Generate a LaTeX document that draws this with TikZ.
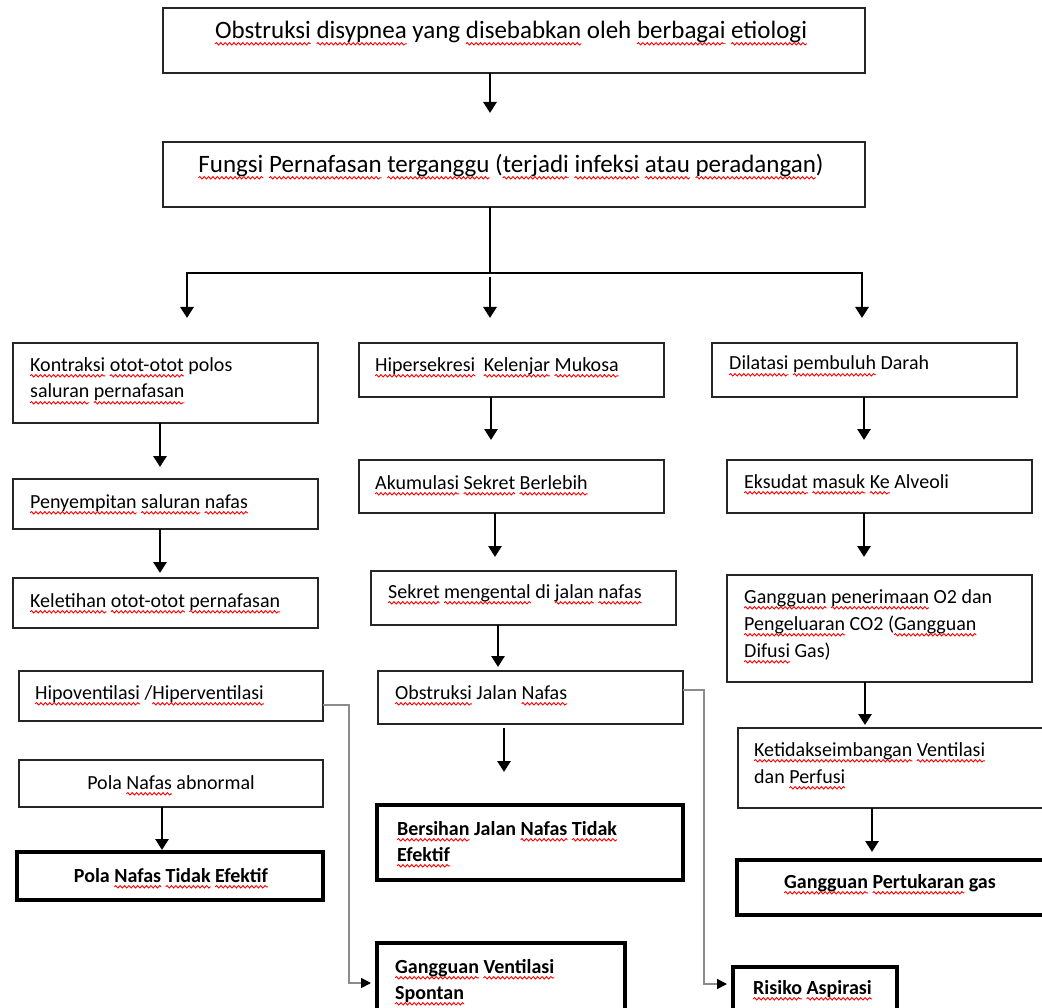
\documentclass[tikz,border=0pt]{standalone}
\usepackage{fontspec}
\setmainfont{Carlito}
\usetikzlibrary{arrows.meta,decorations.pathmorphing}
\newdimen\sqwidth
\newcommand\sq[1]{\setbox0=\hbox{#1}\sqwidth=\wd0\leavevmode\rlap{\tikz[overlay,baseline=0pt]\draw[red, line width=0.9pt, decorate, decoration={snake, amplitude=1.2pt, segment length=4.4pt}] (0pt,-4.8pt) -- (\sqwidth,-4.8pt);}\box0\relax}
\tikzset{
  box/.style={draw=black!85, line width=1.4pt, inner sep=0pt, outer sep=0pt},
  tbox/.style={draw=black, line width=3.2pt, inner sep=0pt, outer sep=0pt},
  txt/.style={anchor=base west, inner sep=0pt, align=left, font=\fontsize{20}{27}\selectfont},
  ctxt/.style={anchor=base, inner sep=0pt, align=center, font=\fontsize{20}{27}\selectfont},
  btxt/.style={font=\fontsize{20}{26}\selectfont\bfseries},
  bigtxt/.style={anchor=base, inner sep=0pt, align=center, font=\fontsize{25}{30}\selectfont},
  link/.style={line width=2.8pt},
  arr/.style={line width=2.8pt, -{Triangle[width=13pt,length=11pt]}},
  gline/.style={draw=black!45, line width=1.5pt, -{Triangle[width=10pt,length=10pt,color=black]}}
}
\begin{document}
\begin{tikzpicture}[x=1pt,y=-1pt]
\useasboundingbox (0,0) rectangle (1042,1008);
\clip (0,0) rectangle (1042,1008);
% boxes
\node[box, minimum width=702pt, minimum height=65pt] (top) at (514,40.5) {};
\node[box, minimum width=702pt, minimum height=65pt] (fungsi) at (514,174.5) {};
\node[box, minimum width=305pt, minimum height=80pt] (k1) at (165.5,383) {};
\node[box, minimum width=305pt, minimum height=50pt] (k2) at (165.5,504) {};
\node[box, minimum width=305pt, minimum height=50pt] (k3) at (165.5,603) {};
\node[box, minimum width=304pt, minimum height=50pt] (hipo) at (171,696) {};
\node[box, minimum width=304pt, minimum height=47pt] (pola) at (171,783.5) {};
\node[tbox, minimum width=306pt, minimum height=48pt] (pte) at (170,876) {};
\node[box, minimum width=305pt, minimum height=54pt] (m1) at (511.5,370) {};
\node[box, minimum width=305pt, minimum height=53pt] (m2) at (511.5,486.5) {};
\node[box, minimum width=305pt, minimum height=54pt] (m3) at (523.5,598) {};
\node[box, minimum width=305pt, minimum height=53pt] (obs) at (530.5,697.5) {};
\node[tbox, minimum width=306pt, minimum height=75pt] (bjn) at (530,842.5) {};
\node[tbox, minimum width=248pt, minimum height=87pt] (gvs) at (501,986.5) {};
\node[box, minimum width=305pt, minimum height=54pt] (r1) at (864.5,370) {};
\node[box, minimum width=305pt, minimum height=53pt] (r2) at (879.5,486.5) {};
\node[box, minimum width=305pt, minimum height=107pt] (r3) at (879.5,628.5) {};
\node[box, minimum width=312pt, minimum height=80pt] (r4) at (894,768) {};
\node[tbox, minimum width=313pt, minimum height=55pt] (gpg) at (893.5,887.5) {};
\node[tbox, minimum width=164pt, minimum height=63pt] (ris) at (815,998.5) {};
% texts (multi-line nodes are placed by the baseline of their last line)
\node[bigtxt] (topt) at (511,39) {\sq{Obstruksi} \sq{disypnea} yang \sq{disebabkan} oleh \sq{berbagai} \sq{etiologi}};
\node[bigtxt] (fungt) at (511,173) {\sq{Fungsi} \sq{Pernafasan} \sq{terganggu} (\sq{terjadi} \sq{infeksi} \sq{atau} \sq{peradangan})};
\node[txt] (k1t) at (30,398) {\sq{Kontraksi} \sq{otot-otot} polos\\\sq{saluran} \sq{pernafasan}};
\node[txt] (k2t) at (30,508) {\sq{Penyempitan} \sq{saluran} \sq{nafas}};
\node[txt] (k3t) at (30,607) {\sq{Keletihan} \sq{otot-otot} \sq{pernafasan}};
\node[txt] (hipot) at (35,699) {\sq{Hipoventilasi} /\sq{Hiperventilasi}};
\node[ctxt] (polat) at (171,789) {Pola \sq{Nafas} abnormal};
\node[ctxt, btxt] (ptet) at (171,882) {Pola \sq{Nafas} \sq{Tidak} \sq{Efektif}};
\node[txt] (m1t) at (375,371) {\sq{Hipersekresi}\hspace{4pt} \sq{Kelenjar} \sq{Mukosa}};
\node[txt] (m2t) at (375,489) {\sq{Akumulasi} \sq{Sekret} \sq{Berlebih}};
\node[txt] (m3t) at (388,598) {\sq{Sekret} \sq{mengental} di \sq{jalan} \sq{nafas}};
\node[txt] (obst) at (395,699) {\sq{Obstruksi} Jalan \sq{Nafas}};
\node[txt, btxt] (bjnt) at (397,861) {\sq{Bersihan} Jalan \sq{Nafas} \sq{Tidak}\\\sq{Efektif}};
\node[txt, btxt] (gvst) at (395,999) {\sq{Gangguan} \sq{Ventilasi}\\\sq{Spontan}};
\node[txt] (r1t) at (729,370) {\sq{Dilatasi} \sq{pembuluh} Darah};
\node[txt] (r2t) at (744,488) {\sq{Eksudat} \sq{masuk} \sq{Ke} Alveoli};
\node[txt] (r3t) at (744,657) {\sq{Gangguan} \sq{penerimaan} O2 dan\\\sq{Pengeluaran} CO2 (\sq{Gangguan}\\\sq{Difusi} Gas)};
\node[txt] (r4t) at (754,783) {\sq{Ketidakseimbangan} \sq{Ventilasi}\\dan \sq{Perfusi}};
\node[ctxt, btxt] (gpgt) at (890,888) {\sq{Gangguan} \sq{Pertukaran} gas};
\node[txt, btxt] (rist) at (753,994) {\sq{Risiko} \sq{Aspirasi}};
% top connectors
\draw[arr, shorten >=29pt] ([xshift=-24pt]top.south) -- ([xshift=-24pt]top.south |- fungsi.north);
\coordinate (bl) at (187,273);
\coordinate (bm) at (490,273);
\coordinate (br) at (862,273);
\draw[link] ([xshift=-24pt]fungsi.south) -- (bm);
\draw[arr, shorten >=25pt] (bm) -- (bl) -- (bl |- k1.north);
\draw[arr, shorten >=25pt] (bm) -- (br) -- (br |- r1.north);
\draw[arr, shorten >=25pt] ([yshift=-4pt]bm) -- (bm |- m1.north);
% left column
\draw[arr, shorten >=12pt] ([xshift=-5.5pt]k1.south) -- ([xshift=-5.5pt]k1.south |- k2.north);
\draw[arr, shorten >=5pt] ([xshift=-5.5pt]k2.south) -- ([xshift=-5.5pt]k2.south |- k3.north);
\draw[arr, shorten >=2pt] ([xshift=-9pt]pola.south) -- ([xshift=-9pt]pola.south |- pte.north);
% middle column
\draw[arr, shorten >=20pt] ([xshift=-20.5pt]m1.south) -- ([xshift=-20.5pt]m1.south |- m2.north);
\draw[arr, shorten >=14pt] ([xshift=-16.5pt]m2.south) -- ([xshift=-16.5pt]m2.south |- m3.north);
\draw[arr, shorten >=4pt] ([xshift=-25.5pt]m3.south) -- ([xshift=-25.5pt]m3.south |- obs.north);
\draw[arr, shorten <=4pt, shorten >=33pt] ([xshift=-26.5pt]obs.south) -- ([xshift=-26.5pt]obs.south |- bjn.north);
% right column
\draw[arr, shorten >=20pt] ([xshift=-0.5pt]r1.south) -- ([xshift=-0.5pt]r1.south |- r2.north);
\draw[arr, shorten >=18pt] ([xshift=-15.5pt]r2.south) -- ([xshift=-15.5pt]r2.south |- r3.north);
\draw[arr, shorten >=3pt] ([xshift=-14.5pt]r3.south) -- ([xshift=-14.5pt]r3.south |- r4.north);
\draw[arr, shorten >=8pt] ([xshift=-22pt]r4.south) -- ([xshift=-22pt]r4.south |- gpg.north);
% grey connectors
\draw[gline, shorten >=6pt] ([yshift=-9pt]hipo.east) -- ++(26,0) |- ([yshift=-40pt]gvs.north west);
\draw[gline, shorten >=6pt] ([yshift=7.5pt]obs.east) -- ++(21,0) |- ([yshift=-17pt]ris.north west);
\end{tikzpicture}
\end{document}
